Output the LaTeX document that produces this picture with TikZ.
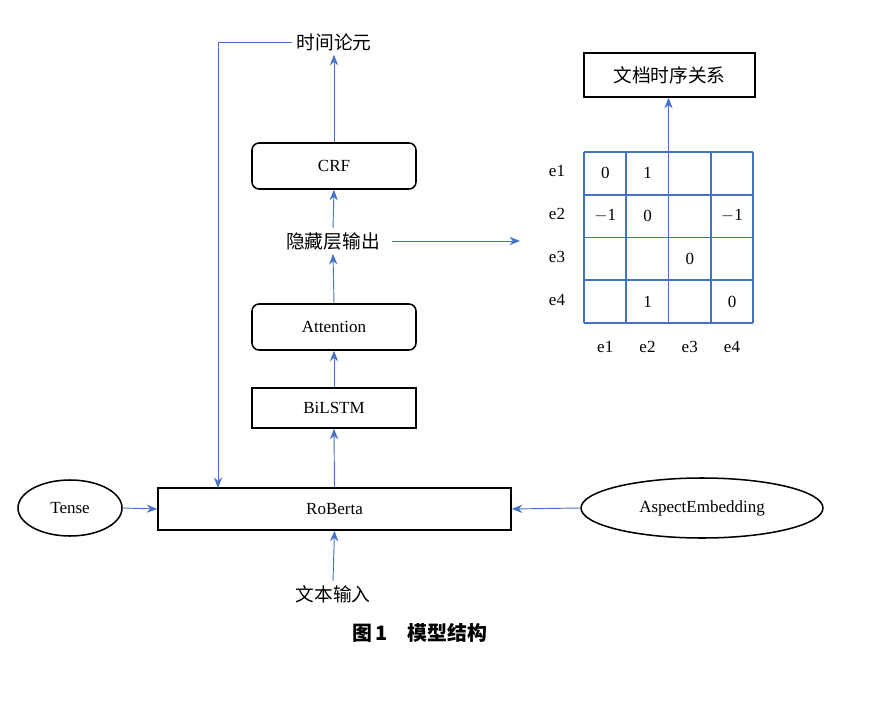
\documentclass[tikz,border=0pt]{standalone}
\usepackage{fontspec}
\setmainfont{Liberation Serif}
\newfontfamily\cjk{Noto Sans CJK SC}
\usetikzlibrary{shapes.geometric,arrows.meta}
\definecolor{bl}{RGB}{68,114,196}
\begin{document}
\begin{tikzpicture}[x=0.03cm,y=-0.03cm,
  box/.style={draw=black,line width=1.3pt,minimum height=#1*0.03cm,inner sep=0},
  arr/.style={draw=bl,line width=0.8pt,-{Stealth[length=9pt,width=7pt]}},
  ln/.style={draw=bl,line width=1.3pt},
  t/.style={font=\fontsize{14.5}{16}\selectfont},
  c/.style={font=\cjk\fontsize{16}{18}\selectfont}]
\useasboundingbox (0,0) rectangle (891,703);
\node[c] (time) at (334,42) {时间论元};
\node[box=46,rounded corners=6pt,minimum width=164*0.03cm,t] (crf) at (334,166) {CRF};
\node[c] (hid) at (333,241) {隐藏层输出};
\node[box=46,rounded corners=6pt,minimum width=164*0.03cm,t] (att) at (334,327) {Attention};
\node[box=40,minimum width=164*0.03cm,t] (bil) at (334,408) {BiLSTM};
\node[box=42,minimum width=353*0.03cm,t] (rob) at (334.5,509) {RoBerta};
\node[ellipse,draw,line width=1.3pt,minimum width=104*0.03cm,minimum height=56*0.03cm,t] (tense) at (70,508) {Tense};
\node[ellipse,draw,line width=1.3pt,minimum width=242*0.03cm,minimum height=60*0.03cm,t] (asp) at (702,508) {AspectEmbedding};
\node[c] (inp) at (333,594) {文本输入};
\node[box=44,minimum width=171*0.03cm,c] (doc) at (669.5,75) {文档时序关系};
\coordinate (hr) at (520,241);
\coordinate (tl) at (218,42);
% matrix
\foreach \i in {0,...,4}{
  \draw[ln] (584+42.25*\i,152) -- (584+42.25*\i,323);
  \draw[ln] (584,152+42.75*\i) -- (753,152+42.75*\i);}
\foreach \r/\v in {1/e1,2/e2,3/e3,4/e4}{
  \node[t] at (557,128.5+42.75*\r) {\v};
  \node[t] at (563+42.25*\r,347) {\v};}
\foreach \x/\y/\v in {1/1/0,2/1/1,1/2/$-$1,2/2/0,4/2/$-$1,3/3/0,2/4/1,4/4/0}
  \node[t] at (563+42.25*\x,130.5+42.75*\y) {\v};
\draw[arr] (crf.north) -- (time.south);
\draw[arr] (hid.north) -- (crf.south);
\draw[arr] (att.north) -- (hid.south);
\draw[arr] (bil.north) -- (att.south);
\draw[arr] (rob.north) -- (bil.south);
\draw[arr] (inp.north) -- (rob.south);
\draw[arr] (tense.east) -- (rob.west);
\draw[arr] (asp.west) -- (rob.east);
\draw[arr] (hid.east)++(8,0) -- (hr);
\draw[arr] (time.west) -- (tl) -- (218,488);
\draw[arr] (668.5,152) -- (doc.south -| 668.5,0);
\node[font=\cjk\bfseries\fontsize{17}{19}\selectfont] (cap) at (420,633) {图\,\textbf{1}\quad 模型结构};
\end{tikzpicture}
\end{document}
